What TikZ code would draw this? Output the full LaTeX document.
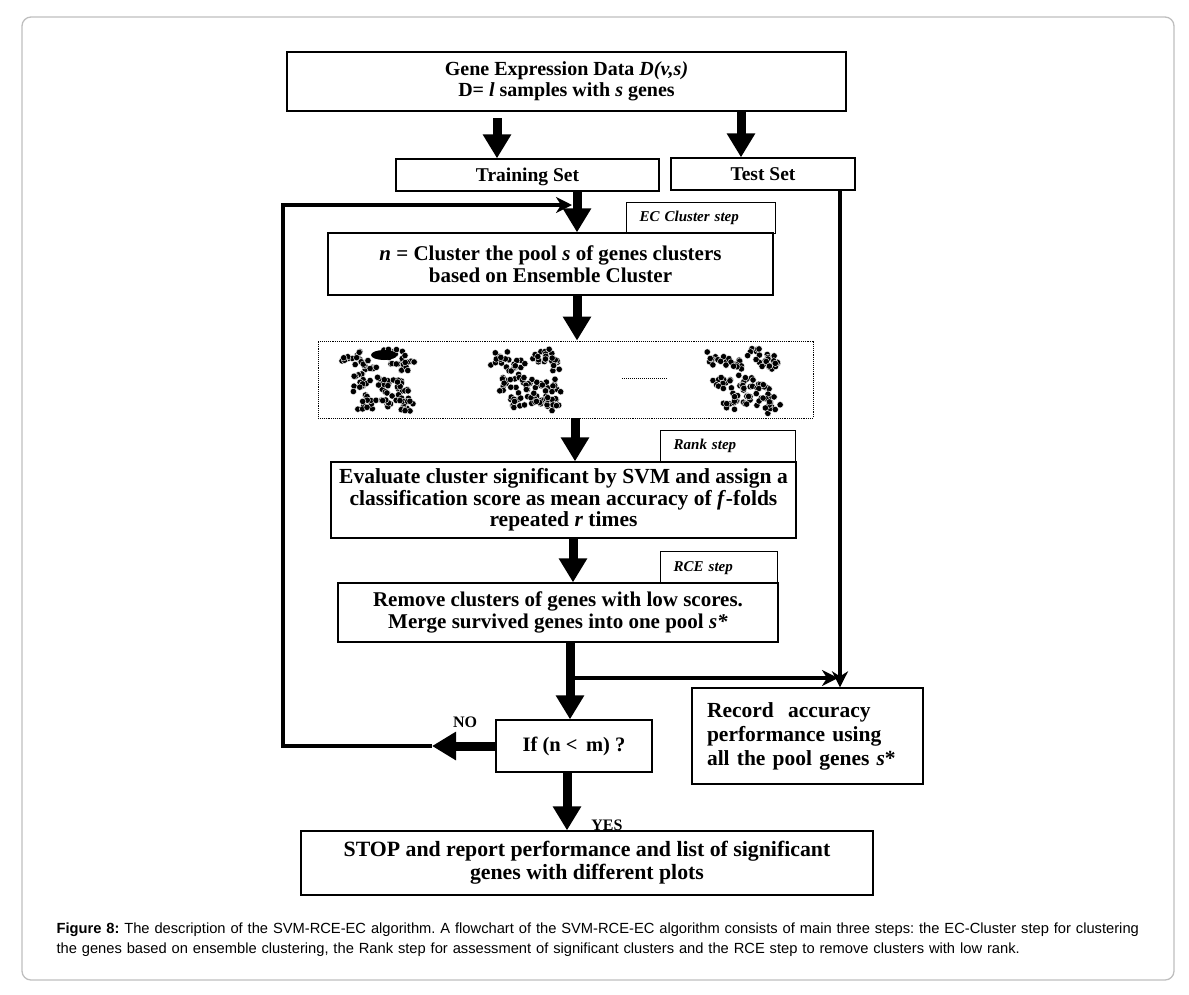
\documentclass[tikz,border=0pt]{standalone}
\usepackage{fontspec}
\setmainfont{Liberation Serif}
\newfontfamily\capfont{Liberation Sans}
\usetikzlibrary{arrows.meta}
\definecolor{framegray}{RGB}{190,190,190}
\newcommand{\boxfont}[2]{\fontsize{#1}{#2}\selectfont\bfseries}
\newcommand{\stepfont}{\fontsize{15}{17}\selectfont\bfseries\itshape}

\begin{document}
\begin{tikzpicture}[x=1pt, y=-1pt]
\useasboundingbox (0,0) rectangle (1189,994);
\draw [framegray, line width=1.3pt, rounded corners=9pt] (22,17) rectangle (1174,980);

\tikzset{every node/.style={draw, line width=1.3pt, fill=white, inner sep=0pt, align=center, font=\boxfont{19.5}{21.5}}}
\tikzset{steplabel/.style={anchor=north west, align=left, font=\stepfont, inner xsep=13pt, minimum height=31pt}}
% step labels first, the boxes lie over them
\node [steplabel, text width=123pt] (ecstep) at (626,202) {EC Cluster step};
\node [steplabel, text width=109pt] (rankstep) at (660,430) {Rank step};
\node [steplabel, text width=91pt, minimum height=32pt] (rcestep) at (660,551) {RCE step};

\node [minimum width=559pt, minimum height=59pt, font=\boxfont{20}{21}] (data) at (566.5,81.5) {Gene Expression Data \textit{D(v,s)}\\D= \textit{l} samples with \textit{s} genes};
\node [minimum width=263pt, minimum height=32pt, text depth=0pt] (train) at (527.5,175) {Training Set};
\node [minimum width=184pt, minimum height=32pt] (test) at (763,174) {Test Set};
\node [minimum width=445pt, minimum height=62pt, font=\boxfont{21}{22}] (cluster) at (550.5,264) {\textit{n} = Cluster the pool \textit{s} of genes clusters\\based on Ensemble Cluster};
\node [minimum width=495pt, minimum height=77pt, fill=none, line width=0.9pt, densely dotted] (pool) at (565.5,379.5) {};
\node [minimum width=465pt, minimum height=76pt, font=\boxfont{21.5}{21.5}] (evaluate) at (563.5,500) {Evaluate cluster significant by SVM and assign a\\classification score as mean accuracy of \textit{f}-folds\\repeated \textit{r} times};
\node [minimum width=440pt, minimum height=59pt, font=\boxfont{21}{22}] (remove) at (558,612.5) {Remove clusters of genes with low scores.\\Merge survived genes into one pool \textit{s*}};
\node [minimum width=156pt, minimum height=52pt, font=\boxfont{20.5}{22}] (ifbox) at (574,746) {If (n <\,\ m) ?};
\node [minimum height=96pt, text width=201pt, inner xsep=15pt, align=left, font=\boxfont{21.5}{24}] (record) at (807.5,736) {Record\ \ accuracy\\performance using\\all the pool genes \textit{s}*};
\node [minimum width=572pt, minimum height=64pt, font=\boxfont{21.8}{23}] (stop) at (587,863) {STOP and report performance and list of significant\\genes with different plots};

\tikzset{every node/.style={}}
\node [font=\boxfont{16}{18}] (no) at (465,722) {NO};
\node [font=\boxfont{16}{18}] (yes) at (607,825) {YES};

% gene clusters inside the dotted box
\pgfmathsetseed{4127}
\foreach \bx in {377, 527, 742} {
  \foreach \ox/\oy in {-26/-20, -8/-12, 16/-22, 28/-14, -18/4, 4/6, 24/10, -10/24, 10/22, 28/26} {
    \foreach \k in {1,...,13} {
      \fill [draw=white, line width=0.4pt] ({\bx+\ox+12*(rnd+rnd-1)}, {378+\oy+10*(rnd+rnd-1)}) circle (3.2pt);
    }
  }
}
\fill (384,355) ellipse [x radius=13pt, y radius=5pt];
\draw [densely dotted, line width=1pt] (622,378) -- (668,378);

\node [anchor=north west, align=left, text width=1120pt, font=\capfont\fontsize{14.7}{20}\selectfont\frenchspacing] (caption) at (53,919) {\textbf{Figure 8:} The description of the SVM-RCE-EC algorithm. A flowchart of the SVM-RCE-EC algorithm consists of main three steps: the EC-Cluster step for clustering\\the genes based on ensemble clustering, the Rank step for assessment of significant clusters and the RCE step to remove clusters with low rank.};

\coordinate (xa) at (497,118);
\coordinate (xb) at (741,0);
\coordinate (xc) at (577,0);
\coordinate (xd) at (575,0);
\coordinate (xe) at (573,0);
\coordinate (xf) at (570,0);
\coordinate (xg) at (567,0);
\coordinate (xt) at (840,0);
\coordinate (nohead) at (432,746);
\coordinate (loopc) at (283,205);
\coordinate (fbtip) at (572,205);
\coordinate (br) at (575,678);
\coordinate (brtip) at (838,678);

\tikzset{bigarrow/.style={line width=9pt, -{Triangle[width=27pt,length=24pt]}}}
\tikzset{thinarrow/.style={line width=4pt, -{Stealth[width=16pt,length=16pt,inset=5pt]}}}
\path (xa) edge [bigarrow] (xa |- train.north);
\path (data.south -| xb) edge [bigarrow] (test.north -| xb);
\path (train.south -| xc) edge [bigarrow] (cluster.north -| xc);
\path (cluster.south -| xc) edge [bigarrow] (pool.north -| xc);
\path (pool.south -| xd) edge [bigarrow] (evaluate.north -| xd);
\path (evaluate.south -| xe) edge [bigarrow] (remove.north -| xe);
\path (remove.south -| xf) edge [bigarrow] (ifbox.north -| xf);
\path (ifbox.south -| xg) edge [bigarrow] (stop.north -| xg);
\path (ifbox.west) edge [bigarrow] (nohead);
\draw [thinarrow] (nohead) -| (loopc) -- (fbtip);
\path (test.south -| xt) edge [thinarrow] (record.north -| xt);
\path (br) edge [thinarrow] (brtip);
\end{tikzpicture}
\end{document}
